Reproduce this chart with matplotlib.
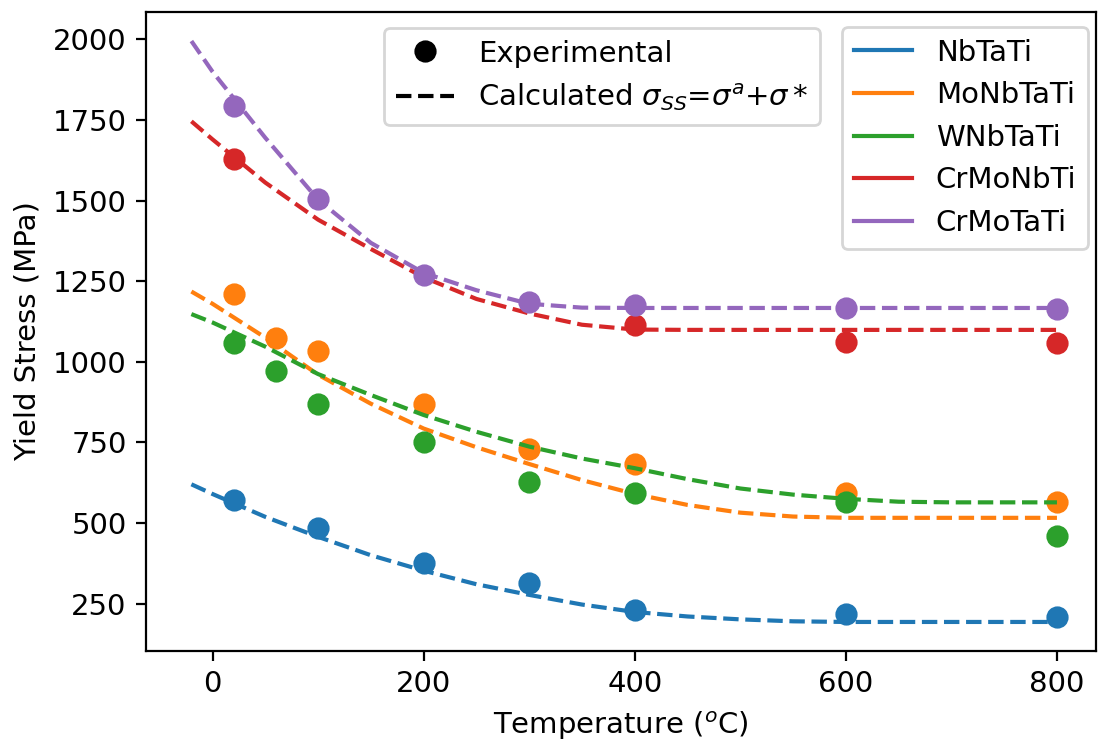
import matplotlib
matplotlib.use("Agg")
import matplotlib.pyplot as plt
from matplotlib.lines import Line2D

plt.rcParams["font.size"] = 10.5

# Experimental data
alloys = ["NbTaTi", "MoNbTaTi", "WNbTaTi", "CrMoNbTi", "CrMoTaTi"]
colors = ["tab:blue", "tab:orange", "tab:green", "tab:red", "tab:purple"]

exp_T_NbTaTi = [20, 100, 200, 300, 400, 600, 800]
exp_S_NbTaTi = [571, 484, 376, 313, 230, 219, 207]
exp_T_MoNbTaTi = [20, 60, 100, 200, 300, 400, 600, 800]
exp_S_MoNbTaTi = [1211, 1073, 1032, 869, 731, 683, 594, 564]
exp_T_WNbTaTi = [20, 60, 100, 200, 300, 400, 600, 800]
exp_S_WNbTaTi = [1058, 970, 869, 752, 626, 594, 564, 460]
exp_T_CrMoNbTi = [20, 400, 600, 800]
exp_S_CrMoNbTi = [1630, 1115, 1060, 1058]
exp_T_CrMoTaTi = [20, 100, 200, 300, 400, 600, 800]
exp_S_CrMoTaTi = [1792, 1505, 1270, 1187, 1177, 1167, 1164]

# Calculated curves
calc_T = [-20, 0, 50, 100, 150, 200, 250, 300, 350, 400, 450, 500, 550, 600, 650, 700, 800]
calc_NbTaTi = [620, 590, 519, 457, 400, 352, 310, 277, 247, 224, 210, 201, 195, 193, 193, 193, 193]
calc_MoNbTaTi = [1218, 1180, 1075, 960, 870, 793, 735, 683, 633, 590, 556, 532, 520, 516, 516, 516, 516]
calc_WNbTaTi = [1148, 1122, 1047, 962, 897, 835, 783, 737, 700, 670, 636, 607, 588, 575, 566, 564, 564]
calc_CrMoNbTi = [1746, 1690, 1556, 1441, 1350, 1262, 1195, 1150, 1115, 1100, 1099, 1099, 1099, 1099, 1099, 1099, 1099]
calc_CrMoTaTi = [1995, 1900, 1695, 1503, 1369, 1276, 1222, 1180, 1168, 1167, 1167, 1167, 1167, 1167, 1167, 1167, 1167]

exp_T = [exp_T_NbTaTi, exp_T_MoNbTaTi, exp_T_WNbTaTi, exp_T_CrMoNbTi, exp_T_CrMoTaTi]
exp_S = [exp_S_NbTaTi, exp_S_MoNbTaTi, exp_S_WNbTaTi, exp_S_CrMoNbTi, exp_S_CrMoTaTi]
calc_S = [calc_NbTaTi, calc_MoNbTaTi, calc_WNbTaTi, calc_CrMoNbTi, calc_CrMoTaTi]

fig = plt.figure(figsize=(5.51, 3.715), dpi=200)
ax = fig.add_axes([146 / 1102, 1 - 651 / 743, 950 / 1102, 639 / 743])

for T, S, C, col in zip(exp_T, exp_S, calc_S, colors):
    ax.plot(T, S, "o", color=col, markersize=7, linestyle="none")
    ax.plot(calc_T, C, "--", color=col, lw=1.5)

handles1 = [Line2D([], [], marker="o", color="black", linestyle="none", markersize=7),
            Line2D([], [], color="black", linestyle="--", lw=1.5)]
labels1 = ["Experimental", r"Calculated $\sigma_{SS}$=$\sigma^a$+$\sigma*$"]
leg1 = ax.legend(handles1, labels1, loc="upper right", bbox_to_anchor=(0.7095, 0.975),
                 borderaxespad=0)
ax.add_artist(leg1)

handles2 = [Line2D([], [], color=c, lw=1.5) for c in colors]
ax.legend(handles2, alloys, loc="upper right", bbox_to_anchor=(0.9916, 0.9765),
          borderaxespad=0)

ax.set_xlim(-63, 837)
ax.set_xlabel(r"Temperature ($^o$C)")
ax.set_ylabel("Yield Stress (MPa)")
ax.set_xticks([0, 200, 400, 600, 800])
ax.set_yticks([250, 500, 750, 1000, 1250, 1500, 1750, 2000])

fig.savefig("out.png", dpi=200)
